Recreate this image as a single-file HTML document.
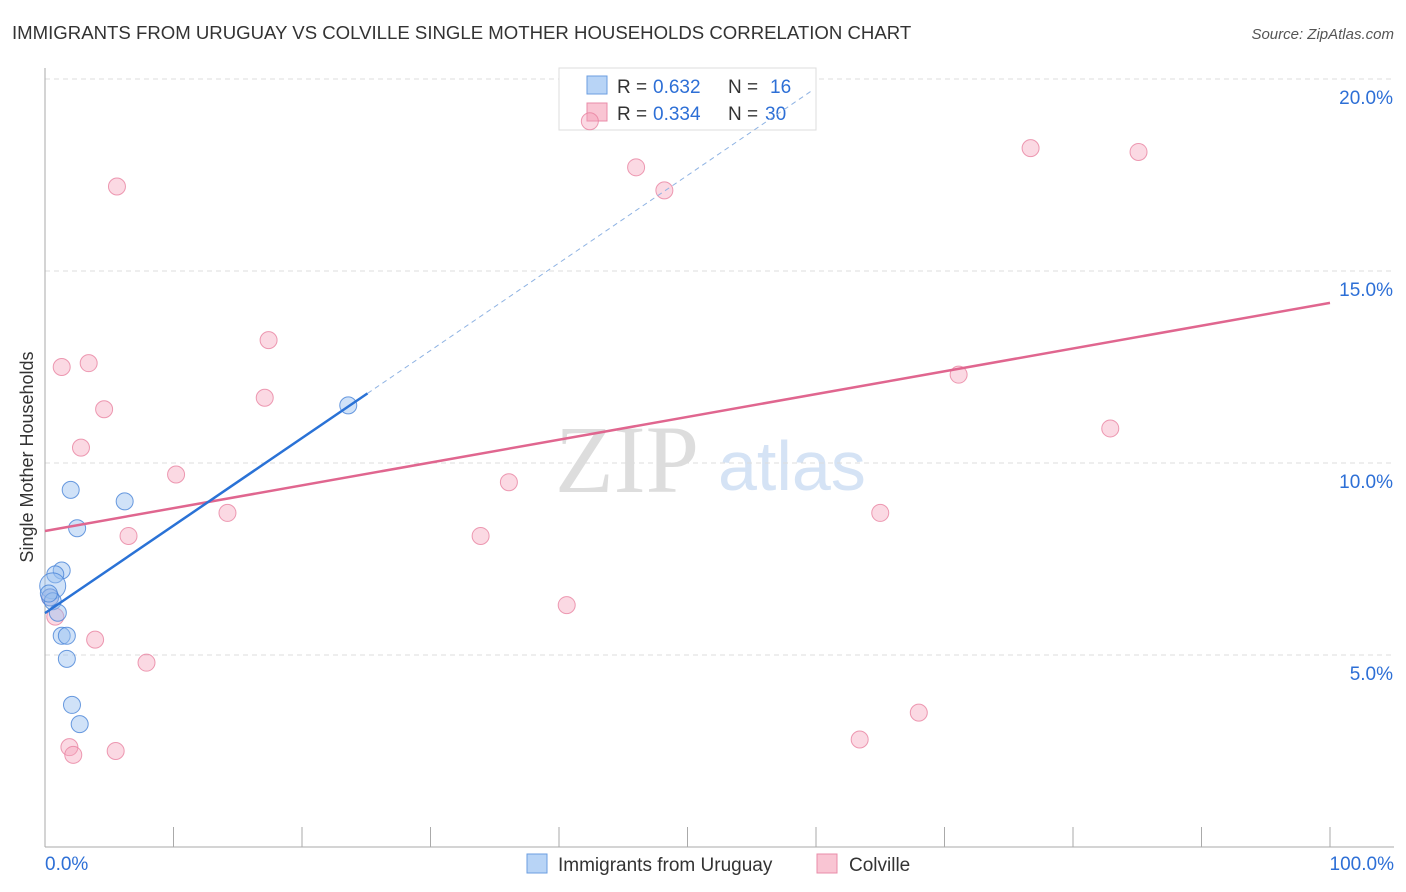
<!DOCTYPE html>
<html><head><meta charset="utf-8"><style>
body{margin:0;background:#fff;font-family:"Liberation Sans",sans-serif;}
svg{display:block}
</style></head><body>
<svg width="1406" height="892" id="chart">
<text x="12" y="39" font-size="18.6" fill="#333">IMMIGRANTS FROM URUGUAY VS COLVILLE SINGLE MOTHER HOUSEHOLDS CORRELATION CHART</text>
<text x="1394" y="39" font-size="15" fill="#555" font-style="italic" text-anchor="end">Source: ZipAtlas.com</text>
<text x="33" y="457" font-size="18" fill="#333" text-anchor="middle" transform="rotate(-90 33 457)">Single Mother Households</text>
<text x="555" y="492" font-size="96" fill="#ddd" font-family="Liberation Serif,serif">ZIP</text>
<text x="718" y="490" font-size="70" fill="#d5e3f5">atlas</text>
<g id="grid"></g>
<g>
<rect x="559" y="68" width="257" height="62" fill="#fff" stroke="#ddd"/>
<rect x="587" y="76" width="20" height="18" fill="#b8d4f6" stroke="#6b9ee0"/>
<rect x="587" y="103" width="20" height="18" fill="#f9c5d3" stroke="#e98ca8"/>
<text x="617" y="93" font-size="19" fill="#333">R =</text><text x="653" y="93" font-size="19" fill="#2d6fd6">0.632</text>
<text x="728" y="93" font-size="19" fill="#333">N =</text><text x="770" y="93" font-size="19" fill="#2d6fd6">16</text>
<text x="617" y="120" font-size="19" fill="#333">R =</text><text x="653" y="120" font-size="19" fill="#2d6fd6">0.334</text>
<text x="728" y="120" font-size="19" fill="#333">N =</text><text x="765" y="120" font-size="19" fill="#2d6fd6">30</text>
</g>
<g id="marks"></g>
<g>
<rect x="527" y="854" width="20" height="19" fill="#b8d4f6" stroke="#6b9ee0"/>
<text x="558" y="871" font-size="19" fill="#333">Immigrants from Uruguay</text>
<rect x="817" y="854" width="20" height="19" fill="#f9c5d3" stroke="#e98ca8"/>
<text x="849" y="871" font-size="19" fill="#333">Colville</text>
</g>
</svg>
<script>
const blueX=[2.0,6.2,2.5,1.3,0.8,0.6,0.4,0.6,1.0,1.3,1.7,1.7,2.1,2.7,23.6,0.3];
const blueY=[9.3,9.0,8.3,7.2,7.1,6.8,6.5,6.4,6.1,5.5,5.5,4.9,3.7,3.2,11.5,6.6];
const pinkX=[42.4,46.0,48.2,76.7,85.1,5.6,17.4,1.3,3.4,17.1,4.6,2.8,10.2,36.1,14.2,65.0,6.5,33.9,71.1,82.9,40.6,0.8,3.9,7.9,68.0,63.4,1.9,2.2,5.5,0.4];
const pinkY=[18.9,17.7,17.1,18.2,18.1,17.2,13.2,12.5,12.6,11.7,11.4,10.4,9.7,9.5,8.7,8.7,8.1,8.1,12.3,10.9,6.3,6.0,5.4,4.8,3.5,2.8,2.6,2.4,2.5,6.5];
const blueTrend=[6.09,0.228];
const pinkTrend=[8.23,0.0594];
const yTicks=[5,10,15,20];
const xTickLabels=["0.0%","100.0%"];
const ns="http://www.w3.org/2000/svg";
const X=v=>45+v*12.85, Y=v=>847-v*38.4;
function mk(t,a,p){const e=document.createElementNS(ns,t);for(const k in a)e.setAttribute(k,a[k]);p.appendChild(e);return e;}
const g=document.getElementById('grid'),m=document.getElementById('marks');
for(const t of yTicks){
 const l=mk('line',{x1:45,x2:1394,y1:Y(t),y2:Y(t),stroke:'#ddd','stroke-dasharray':'5,4'},g);
 
 
 const tx=mk('text',{x:1393,y:Y(t)+25,'font-size':19,fill:'#2d6fd6','text-anchor':'end'},g);tx.textContent=t.toFixed(1)+'%';
 
 
}
const ax=mk('line',{x1:45,x2:45,y1:68,y2:847,stroke:'#aaa'},g);


const bx=mk('line',{x1:45,x2:1394,y1:847,y2:847,stroke:'#aaa'},g);


for(let i=0;i<=10;i++){const tk=mk('line',{x1:X(i*10),x2:X(i*10),y1:827,y2:847,stroke:'#aaa'},g);
 
 }
[[45,'start'],[1394,'end']].forEach((p,i)=>{const t=mk('text',{x:p[0],y:870,'font-size':19,fill:'#2d6fd6','text-anchor':p[1]},g);t.textContent=xTickLabels[i];
 
 });
pinkX.forEach((x,i)=>{const c=mk('circle',{cx:X(x),cy:Y(pinkY[i]),r:8.5,fill:'rgba(244,160,185,0.4)',stroke:'rgba(232,130,160,0.8)'},m);
 
 });
blueX.forEach((x,i)=>{const c=mk('circle',{cx:X(x),cy:Y(blueY[i]),r:i==5?13:8.5,fill:'rgba(150,190,240,0.45)',stroke:'rgba(70,130,215,0.8)'},m);
 
 });
const pl=mk('line',{x1:X(0),y1:Y(pinkTrend[0]),x2:X(100),y2:Y(pinkTrend[0]+100*pinkTrend[1]),stroke:'#e0668f','stroke-width':2.5},m);


const bl=mk('line',{x1:X(0),y1:Y(blueTrend[0]),x2:X(25.1),y2:Y(blueTrend[0]+25.1*blueTrend[1]),stroke:'#2a72d6','stroke-width':2.5},m);


const bd=mk('line',{x1:X(25.1),y1:Y(blueTrend[0]+25.1*blueTrend[1]),x2:X(59.7),y2:Y(blueTrend[0]+59.7*blueTrend[1]),stroke:'#8fb3e3','stroke-width':1,'stroke-dasharray':'5,4'},m);


</script>
</body></html>
